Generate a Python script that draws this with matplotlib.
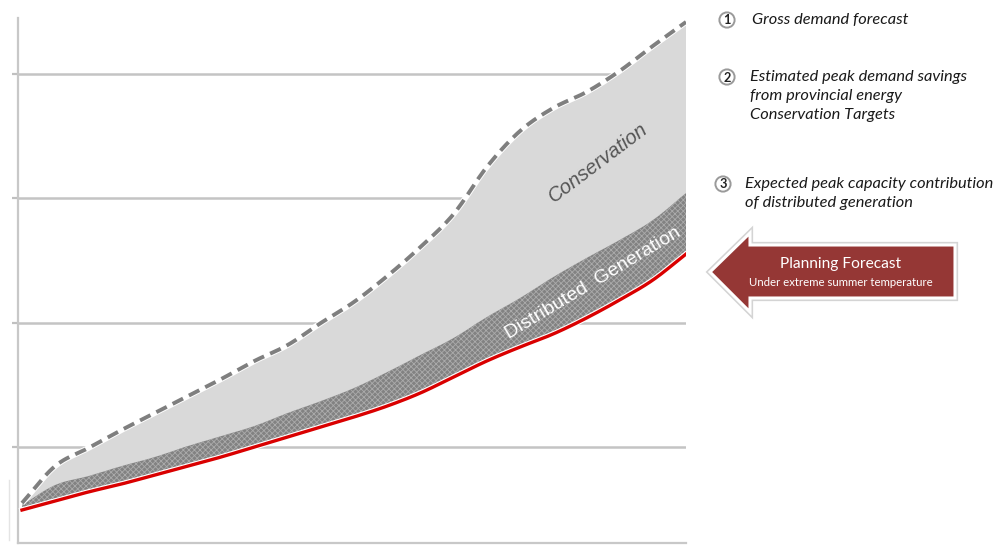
import numpy as np
import matplotlib
matplotlib.use("Agg")
import matplotlib.pyplot as plt
from matplotlib.patches import Polygon, Circle
import matplotlib.patheffects as pe

# ---- data (arbitrary units) ----
periods = np.arange(21)
gross_demand = [0.550, 0.847, 0.992, 1.137, 1.273, 1.410, 1.546, 1.691, 1.819, 1.996,
                2.165, 2.373, 2.606, 2.871, 3.249, 3.538, 3.723, 3.851, 4.020, 4.221, 4.414]
before_dg = [0.534, 0.695, 0.767, 0.847, 0.920, 1.008, 1.088, 1.169, 1.273, 1.369,
             1.474, 1.602, 1.739, 1.876, 2.044, 2.197, 2.365, 2.518, 2.663, 2.823, 3.040]
planning_forecast = [0.494, 0.566, 0.639, 0.703, 0.775, 0.847, 0.920, 1.000, 1.080, 1.161,
                     1.241, 1.329, 1.434, 1.562, 1.691, 1.803, 1.908, 2.036, 2.181, 2.341, 2.550]
grid_levels = [1, 2, 3, 4]

legend_items = [
    ("1", ["Gross demand forecast"]),
    ("2", ["Estimated peak demand savings", "from provincial energy", "Conservation Targets"]),
    ("3", ["Expected peak capacity contribution", "of distributed generation"]),
]


def smooth(xs, ys, n=12):
    """Catmull-Rom curve through the points (for drawing only)."""
    xs = np.asarray(xs, float)
    ys = np.asarray(ys, float)
    px = np.concatenate([[2 * xs[0] - xs[1]], xs, [2 * xs[-1] - xs[-2]]])
    py = np.concatenate([[2 * ys[0] - ys[1]], ys, [2 * ys[-1] - ys[-2]]])
    outx, outy = [], []
    t = np.linspace(0, 1, n, endpoint=False)
    for i in range(1, len(px) - 2):
        for arr, out in ((px, outx), (py, outy)):
            p0, p1, p2, p3 = arr[i - 1], arr[i], arr[i + 1], arr[i + 2]
            out.extend(0.5 * ((2 * p1) + (-p0 + p2) * t + (2 * p0 - 5 * p1 + 4 * p2 - p3) * t ** 2
                              + (-p0 + 3 * p1 - 3 * p2 + p3) * t ** 3))
    outx.append(xs[-1])
    outy.append(ys[-1])
    return np.array(outx), np.array(outy)


W, H = 997, 548
fig = plt.figure(figsize=(W / 100, H / 100), dpi=100)
fig.patch.set_facecolor("white")

L, R, T, B = 18, 686, 18, 543
ax = fig.add_axes([L / W, (H - B) / H, (R - L) / W, (B - T) / H])
ax.set_xlim(-0.12, 20)
ax.set_ylim(0.229, 4.446)

for s in ["top", "right"]:
    ax.spines[s].set_visible(False)
for s in ["left", "bottom"]:
    ax.spines[s].set_color("#c8c8c8")
    ax.spines[s].set_linewidth(1.6)
ax.set_xticks([])
ax.set_yticks(grid_levels)
ax.set_yticklabels([])
ax.tick_params(axis="y", length=4, width=1.6, color="#c0c0c0")
for g in grid_levels:
    ax.axhline(g, color="#c4c4c4", lw=1.8, zorder=0.5)

sx, g_s = smooth(periods, gross_demand)
_, d_s = smooth(periods, before_dg)
_, p_s = smooth(periods, planning_forecast)

plt.rcParams["hatch.linewidth"] = 0.6
ax.fill_between(sx, d_s, g_s, facecolor="#d9d9d9", edgecolor="none", zorder=2)
ax.fill_between(sx, p_s, d_s, facecolor="#828282", edgecolor="#ababab",
                hatch="xxxxxx", linewidth=0, zorder=2.2)

ax.plot(sx, g_s, color="white", lw=4.2, solid_capstyle="butt", zorder=3)
ax.plot(sx, g_s, color="#7f7f7f", lw=2.8, dashes=(3.0, 1.7), zorder=3.1)

ax.plot(sx, p_s, color="white", lw=4.0, zorder=3.2)
ax.plot(sx, p_s, color="#d90000", lw=2.4, zorder=3.3)

# overlay in pixel coordinates for annotations
ov = fig.add_axes([0, 0, 1, 1])
ov.set_xlim(0, W)
ov.set_ylim(H, 0)
ov.axis("off")
ov.patch.set_alpha(0)

ov.plot([8.5, 8.5], [480, 540], color="#e4e4e4", lw=1)

ov.text(598, 163, "Conservation", rotation=37, ha="center", va="center",
        fontsize=14.5, color="#555555", family="Liberation Sans", style="italic")
ov.text(593, 283, "Distributed  Generation", rotation=31, ha="center", va="center",
        fontsize=14, color="white", family="Liberation Sans")

circle_pos = [(727, 20), (727, 77), (723, 184)]
text_x = [752, 750, 745]
line_gap = 19
for (num, lines), (cx, cy), tx in zip(legend_items, circle_pos, text_x):
    ov.add_patch(Circle((cx, cy), 7.6, facecolor="white", edgecolor="#9a9a9a", lw=1.4))
    ov.text(cx, cy + 0.5, num, ha="center", va="center", fontsize=9.2,
            fontweight="bold", color="#222222", family="Lato")
    for i, ln in enumerate(lines):
        ov.text(tx, cy + i * line_gap, ln, ha="left", va="center", fontsize=11.8,
                style="italic", color="#1a1a1a", family="Lato")

arrow_pts = [(710, 272), (750, 233), (750, 245), (955, 245), (955, 298), (750, 298), (750, 312)]
arrow = Polygon(arrow_pts, closed=True, facecolor="#953735", edgecolor="white", lw=2.2,
                joinstyle="miter", zorder=5)
arrow.set_path_effects([pe.Stroke(linewidth=4.5, foreground="#d4d4d4"), pe.Normal()])
ov.add_patch(arrow)
ov.text(841, 264, "Planning Forecast", ha="center", va="center", fontsize=11.2,
        color="white", family="Lato", zorder=6)
ov.text(841, 282, "Under extreme summer temperature", ha="center", va="center",
        fontsize=8.2, color="white", family="Lato", zorder=6)

fig.savefig("out.png", dpi=100, facecolor="white")
